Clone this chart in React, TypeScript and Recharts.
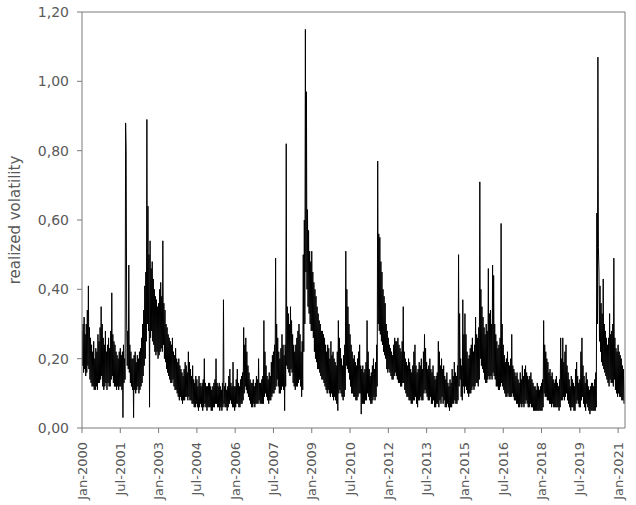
import React from 'react';
import { LineChart, Line, XAxis, YAxis, ReferenceLine } from 'recharts';

// realized volatility, in hundredths, 4 readings per month (Jan..Dec)
const vol2000 = [28,18,30,16, 32,17,27,15, 30,16,34,18, 41,17,29,14, 26,13,24,12, 22,12,25,11, 20,11,23,12, 22,11,27,13, 25,13,29,14, 35,15,30,12, 26,11,24,12, 28,13,22,11];
const vol2001 = [24,13,26,12, 23,12,28,14, 39,15,27,13, 25,12,24,12, 22,11,21,12, 20,11,22,12, 23,12,21,11, 22,3,24,13, 20,14,88,80, 30,18,28,17, 47,16,24,13, 22,12,20,11];
const vol2002 = [20,3,21,11, 22,10,19,11, 21,12,20,10, 22,11,23,12, 26,13,30,15, 34,18,41,20, 45,25,89,30, 64,28,50,6, 54,26,46,28, 48,25,43,24, 40,22,38,21, 37,22,35,20];
const vol2003 = [36,21,40,22, 42,23,38,22, 54,24,36,20, 34,19,30,17, 29,16,27,15, 26,14,25,13, 24,13,26,14, 22,12,21,11, 23,11,20,10, 19,9,20,8, 18,9,17,8, 16,7,15,8];
const vol2004 = [17,8,19,9, 18,9,16,8, 22,9,19,8, 17,8,15,7, 18,7,14,6, 13,6,15,7, 14,6,12,5, 15,6,13,7, 12,6,13,5, 14,6,20,7, 13,6,12,5, 12,6,13,6];
const vol2005 = [13,6,12,5, 11,5,12,6, 13,6,14,7, 20,7,13,6, 12,6,13,5, 12,6,11,5, 13,6,37,7, 12,6,13,6, 11,5,12,6, 15,7,17,8, 13,7,12,6, 19,6,12,5];
const vol2006 = [12,6,14,7, 17,7,13,6, 12,6,14,7, 15,7,16,8, 29,10,24,12, 26,11,22,10, 18,9,16,8, 14,7,13,6, 13,6,14,7, 12,6,13,7, 15,7,14,7, 20,8,13,7];
const vol2007 = [13,7,14,7, 15,7,31,9, 22,10,18,9, 15,8,14,7, 16,8,15,8, 19,9,21,10, 22,10,24,11, 49,12,30,14, 26,12,22,10, 20,10,23,11, 27,12,24,11, 21,5,24,12];
const vol2008 = [82,18,35,17, 33,16,30,15, 35,17,31,16, 27,13,24,12, 22,11,24,12, 26,12,28,13, 30,14,27,12, 22,9,25,11, 50,22,60,30, 115,45,97,40, 63,35,57,33, 51,30,48,28];
const vol2009 = [51,28,45,26, 42,22,40,20, 38,19,35,17, 33,17,31,16, 30,15,28,14, 28,14,27,13, 26,12,24,11, 22,10,24,11, 23,10,20,9, 25,10,21,9, 22,8,20,9, 19,8,18,7];
const vol2010 = [22,5,31,10, 26,11,23,10, 20,9,18,8, 21,9,24,11, 51,18,40,17, 35,16,30,14, 27,12,24,10, 22,10,20,9, 21,9,19,8, 18,8,20,9, 22,10,24,10, 18,4,17,7];
const vol2011 = [18,7,16,7, 17,8,19,8, 31,10,22,9, 17,8,15,7, 16,7,18,8, 20,9,17,8, 19,9,24,12, 77,30,56,28, 55,27,48,25, 45,24,40,22, 38,21,36,20, 30,17,28,16];
const vol2012 = [26,17,24,16, 23,15,22,14, 21,14,24,15, 26,16,25,15, 25,14,26,13, 24,13,23,12, 22,12,25,13, 35,13,22,11, 20,10,19,9, 18,9,20,8, 19,8,17,7, 16,7,18,8];
const vol2013 = [22,8,24,9, 18,7,16,6, 17,8,19,8, 18,9,20,8, 17,8,22,10, 27,11,23,10, 19,9,17,8, 18,8,20,9, 17,7,16,7, 18,8,15,6, 14,6,15,7, 16,7,25,6];
const vol2014 = [22,8,18,7, 20,9,17,7, 18,8,15,6, 14,6,16,7, 13,6,12,5, 14,6,13,6, 17,7,15,7, 19,8,16,7, 15,7,18,8, 50,12,33,14, 20,9,18,8, 37,12,27,10];
const vol2015 = [33,12,27,11, 22,10,20,9, 21,10,23,10, 24,11,26,12, 22,11,24,12, 32,13,27,13, 26,12,29,14, 71,20,40,18, 35,17,32,16, 29,14,27,13, 30,13,28,14, 46,15,33,14];
const vol2016 = [34,15,30,14, 47,16,44,15, 30,14,27,12, 25,12,23,11, 24,11,26,12, 59,13,30,12, 24,11,21,10, 19,9,20,9, 22,10,19,9, 18,9,20,9, 27,10,18,9, 17,8,16,8];
const vol2017 = [15,7,16,7, 14,6,13,6, 16,7,14,6, 18,7,15,6, 17,7,18,8, 16,7,15,6, 14,6,15,7, 16,6,14,6, 13,5,12,5, 12,5,11,5, 13,5,12,5, 11,5,12,5];
const vol2018 = [13,5,14,6, 31,10,24,9, 22,9,20,8, 19,8,16,7, 17,7,15,6, 16,7,14,6, 13,6,14,6, 15,6,13,6, 12,5,14,6, 26,8,20,8, 26,9,19,8, 22,9,24,10];
const vol2019 = [18,8,16,7, 14,6,12,5, 15,6,14,6, 13,5,12,5, 17,7,19,8, 15,7,13,6, 14,6,22,8, 26,9,18,7, 15,6,13,5, 16,7,14,6, 12,5,11,4, 12,5,13,5];
const vol2020 = [13,5,12,5, 14,5,16,6, 62,30,107,52, 45,25,41,22, 36,19,33,18, 43,17,30,16, 28,15,26,14, 24,13,26,12, 33,14,27,13, 28,13,30,12, 49,14,26,11, 23,10,22,9];
const vol2021 = [24,10,22,9, 21,9,20,8, 18,8,17,7];

const years = [2000, 2001, 2002, 2003, 2004, 2005, 2006, 2007, 2008, 2009, 2010, 2011, 2012, 2013, 2014, 2015, 2016, 2017, 2018, 2019, 2020, 2021];
const volByYear = [vol2000, vol2001, vol2002, vol2003, vol2004, vol2005, vol2006, vol2007, vol2008, vol2009, vol2010, vol2011, vol2012, vol2013, vol2014, vol2015, vol2016, vol2017, vol2018, vol2019, vol2020, vol2021];

const tickValues = [2000, 2001.5, 2003, 2004.5, 2006, 2007.5, 2009, 2010.5, 2012, 2013.5, 2015, 2016.5, 2018, 2019.5, 2021];
const tickLabels = ['Jan-2000', 'Jul-2001', 'Jan-2003', 'Jul-2004', 'Jan-2006', 'Jul-2007', 'Jan-2009', 'Jul-2010', 'Jan-2012', 'Jul-2013', 'Jan-2015', 'Jul-2016', 'Jan-2018', 'Jul-2019', 'Jan-2021'];
const yTicks = [0, 0.2, 0.4, 0.6, 0.8, 1.0, 1.2];

const data = years.flatMap((y, k) =>
    volByYear[k].map((v, i) => ({ t: y + i / 48, vol: v / 100 }))
);

const FONT = '"DejaVu Sans", sans-serif';
const AXIS = '#7a7a7a';
const TEXT = '#595959';

function DateTick({ x, y, payload }: any) {
    const idx = tickValues.indexOf(payload.value);
    return (
        <text
            x={x}
            y={y + 7}
            transform={`rotate(-90, ${x}, ${y + 7})`}
            textAnchor="end"
            dy="0.35em"
            fill={TEXT}
            fontSize={13}
            fontFamily={FONT}
        >
            {tickLabels[idx]}
        </text>
    );
}

export default function App() {
    return (
        <div style={{ position: 'absolute', left: 0, top: 0, background: '#fff' }}>
            <LineChart width={636} height={505} data={data} margin={{ top: 12, right: 11, bottom: 0, left: 0 }}>
                <XAxis
                    dataKey="t"
                    type="number"
                    domain={[2000, 2021.27]}
                    ticks={tickValues}
                    tick={<DateTick />}
                    interval={0}
                    height={77}
                    stroke={AXIS}
                    tickSize={5}
                    allowDataOverflow
                />
                <YAxis
                    type="number"
                    domain={[0, 1.2]}
                    ticks={yTicks}
                    width={82}
                    stroke={AXIS}
                    tickSize={5}
                    tickMargin={8}
                    tickFormatter={(v: number) => v.toFixed(2).replace('.', ',')}
                    tick={{ fill: TEXT, fontSize: 14, fontFamily: FONT }}
                    label={{
                        value: 'realized volatility',
                        angle: -90,
                        position: 'insideLeft',
                        offset: 15,
                        style: { textAnchor: 'middle', fill: TEXT, fontSize: 15, fontFamily: FONT },
                    }}
                />
                <ReferenceLine y={1.2} stroke={AXIS} />
                <ReferenceLine x={2021.27} stroke={AXIS} />
                <Line
                    type="linear"
                    dataKey="vol"
                    stroke="#000"
                    strokeWidth={1}
                    dot={false}
                    isAnimationActive={false}
                />
            </LineChart>
        </div>
    );
}
